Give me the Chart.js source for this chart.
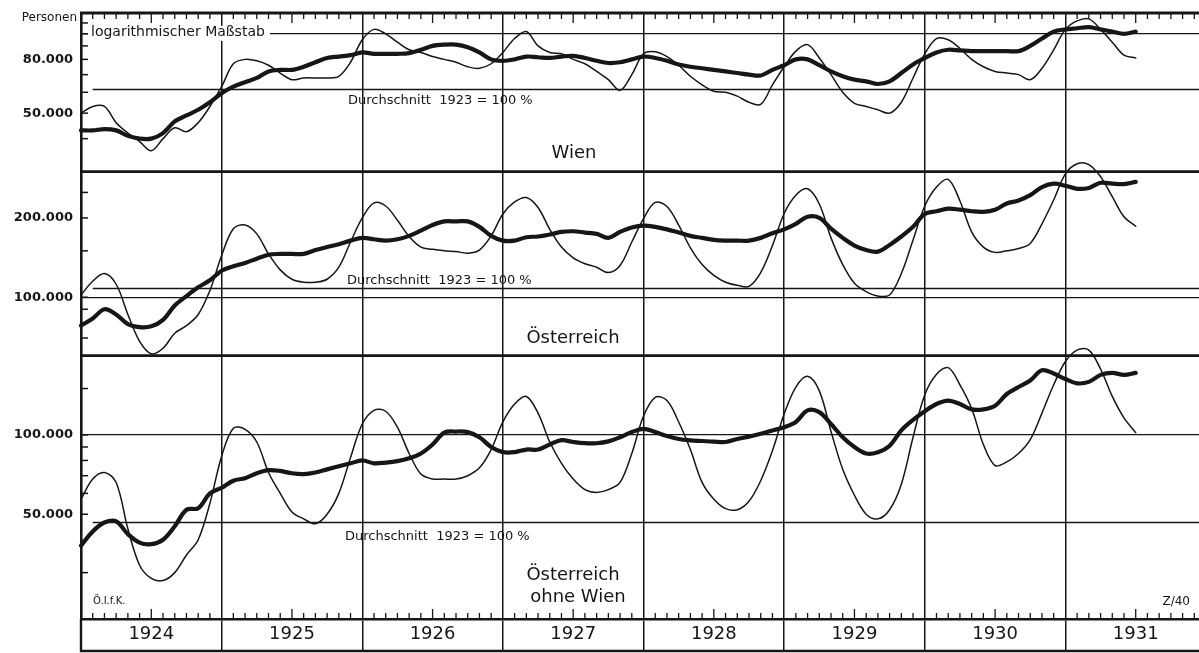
<!DOCTYPE html>
<html><head><meta charset="utf-8">
<script src="https://cdn.jsdelivr.net/npm/chart.js@4.4.1/dist/chart.umd.min.js"></script>
<style>html,body{margin:0;padding:0;background:#fff;overflow:hidden}canvas{display:block}</style>
</head><body>
<canvas id="c" width="1199" height="653"></canvas>
<script>
// ---------- DATA ----------
const years = ['1924','1925','1926','1927','1928','1929','1930','1931'];
const firstYear = 1924;   // first monthly value = January 1924

const wienMonthly = [50000,53000,53000,46000,42000,39000,36000,40000,44000,42500,46000,53000,
 63000,77000,80000,79000,76000,71000,67000,68000,68000,68000,69000,78000,
 95000,104000,100000,93000,87000,85000,82000,80000,78000,75000,74000,77000,
 85000,96000,102000,90000,85000,84000,80000,77000,72000,67000,61000,70000,
 84000,85500,82000,76000,69000,64000,60500,60000,58000,55000,54000,64000,
 75000,86000,91000,81000,70000,60000,54500,53000,51500,50000,55000,68000,
 84000,96000,95000,88000,80000,75000,72000,71000,70000,67000,74000,87000,
 104000,112000,114000,104000,93000,83000,81000];
const wienTrend = [43000,43000,43500,43000,41000,40000,40000,42000,46500,49000,51500,55000,
 59500,63000,65500,68000,72000,73000,73000,75000,78000,81000,82000,83000,
 85000,84000,84000,84000,84500,87000,90000,91000,91000,89000,85000,80000,
 79000,80000,82000,81500,81000,82000,82500,81000,79000,77500,78000,80000,
 82000,81000,79000,76500,75000,74000,73000,72000,71000,70000,69500,73000,
 76000,80000,80000,76000,72000,69000,67000,66000,64500,66000,71000,76500,
 81000,85000,87000,86500,86000,86000,86000,86000,86000,90000,96000,102000,
 104000,105000,106000,104000,102000,100000,102000];

const oesterreichMonthly = [102000,115000,123000,112000,86000,68000,61000,64000,73000,78000,86000,106000,
 144000,182000,188000,174000,146000,127000,117000,114000,114000,117000,130000,162000,
 200000,228000,222000,196000,170000,155000,152000,150000,149000,147000,151000,171000,
 207000,230000,239000,219000,181000,155000,141000,134000,130000,124000,132000,162000,
 199000,229000,221000,188000,154000,133000,121000,114000,111000,110000,124000,157000,
 208000,244000,258000,226000,168000,133000,113000,105000,101000,102000,123000,165000,
 222000,262000,280000,232000,177000,155000,148000,150000,153000,160000,190000,234000,
 294000,321000,319000,287000,241000,202000,186000];
const oesterreichTrend = [78000,83000,90000,86000,79000,77000,77500,82000,93000,101000,109000,116000,
 126000,131000,135000,140000,145000,146000,146000,146000,151000,155000,159000,164000,
 168000,166000,164000,166000,171000,179000,188000,194000,194000,194000,185000,171000,
 164000,164000,169000,170000,173000,177000,178000,176000,174000,168000,177000,184000,
 187000,185000,181000,176000,171000,168000,165000,164000,164000,164000,168000,175000,
 181000,190000,202000,200000,182000,168000,157000,151000,149000,158000,170000,185000,
 207000,212000,217000,215000,212000,211000,215000,227000,233000,244000,262000,270000,
 265000,258000,260000,272000,270000,269000,274000];

const ohneWienMonthly = [57000,68000,72000,66000,44000,32000,28500,28000,30000,35000,40000,55000,
 83000,106000,105000,94000,72000,60000,51000,48000,46000,50000,60000,82000,
 110000,124000,123000,107000,85000,71000,68000,68000,68000,70000,75000,88000,
 112000,131000,140000,121000,94000,78000,68000,62000,60500,62000,66000,85000,
 118000,139000,135000,112000,88000,66000,57000,52500,52000,56000,67000,87000,
 120000,152000,167000,147000,103000,74000,59000,50000,48000,52000,65000,98000,
 142000,170000,180000,155000,126000,92000,76500,79000,85000,96000,121000,155000,
 190000,210000,210000,178000,140000,116000,102000];
const ohneWienTrend = [38000,43000,46500,47000,42000,39000,38500,40000,45000,52000,52700,60000,
 63000,67000,68500,71500,73500,73000,71500,71000,72000,74000,76000,78000,
 80000,78000,78500,79500,81500,85000,92000,102000,103000,102500,98000,90000,
 86000,86000,88000,88000,92000,95500,94000,93000,93000,94500,98000,102500,
 105500,102500,99000,96500,95300,94800,94300,94000,96500,98500,101000,104000,
 107000,112000,124000,122000,110000,98000,90000,85000,86000,91000,104000,114000,
 123000,131000,135000,131000,125000,125000,129000,143000,152000,161000,176000,171000,
 163000,157000,159000,169000,172000,169000,172000];

// Durchschnitt 1923 = 100 %
const wienAverage1923 = 61500;
const oesterreichAverage1923 = 108000;
const ohneWienAverage1923 = 46500;

// axis ranges and ticks (Personen, logarithmic)
const wienRange = [30000, 120000];
const oesterreichRange = [60000, 300000];
const ohneWienRange = [20000, 200000];
const wienTicks = [40000,50000,60000,70000,80000,90000,100000,110000];
const oesterreichTicks = [70000,80000,90000,100000,150000,200000,250000];
const ohneWienTicks = [30000,50000,60000,70000,80000,90000,100000,150000];
const wienTickLabels = [80000, 50000];
const oesterreichTickLabels = [200000, 100000];
const ohneWienTickLabels = [100000, 50000];
const gridValue = 100000;

// ---------- CHART ----------
const INK = '#161616';
const FONT = "'DejaVu Sans', 'Liberation Sans', sans-serif";
const fmt = v => String(v).replace(/\B(?=(\d{3})+(?!\d))/g, '.');
const series = arr => arr.map((v, i) => ({ x: firstYear + i / 12, y: v }));
const yearTicks = [];
years.forEach(y => { yearTicks.push(+y); yearTicks.push(+y + 0.5); });

function line(data, axis, thick) {
  return {
    data: series(data), yAxisID: axis, borderColor: INK, borderWidth: thick ? 4.2 : 1.5,
    pointRadius: 0, tension: 0.35, fill: false, clip: false,
    borderCapStyle: 'round', borderJoinStyle: 'round'
  };
}

function yAxis(range, ticks, labels) {
  return {
    type: 'logarithmic', position: 'left', stack: 'panels',
    stackWeight: Math.log10(range[1] / range[0]),
    min: range[0], max: range[1],
    afterBuildTicks: s => { s.ticks = ticks.map(v => ({ value: v })); },
    afterFit: s => { s.width = 81; s.paddingTop = 0; s.paddingBottom = 0; },
    grid: {
      drawTicks: false, lineWidth: 1.3,
      color: c => (c.tick && c.tick.value === gridValue) ? INK : 'rgba(0,0,0,0)'
    },
    border: { display: true, color: INK, width: 2.6 },
    ticks: {
      autoSkip: false, padding: 8, color: INK,
      font: { family: FONT, size: 13, weight: 'bold' },
      callback: v => labels.includes(v) ? fmt(v) : ''
    }
  };
}

const panelInfo = [
  { axis: 'yW', avg: wienAverage1923, ticks: wienTicks },
  { axis: 'yO', avg: oesterreichAverage1923, ticks: oesterreichTicks },
  { axis: 'yR', avg: ohneWienAverage1923, ticks: ohneWienTicks }
];

const decor = {
  id: 'decor',
  beforeDatasetsDraw(chart) {
    const { ctx, chartArea: a, scales } = chart;
    const x = scales.x;
    ctx.save();
    ctx.strokeStyle = INK;
    ctx.lineWidth = 1.5;
    panelInfo.forEach(p => {
      const py = scales[p.axis].getPixelForValue(p.avg);
      ctx.beginPath(); ctx.moveTo(x.getPixelForValue(firstYear + 1 / 12), py); ctx.lineTo(a.right, py); ctx.stroke();
    });
    panelInfo.forEach(p => {
      const s = scales[p.axis];
      p.ticks.forEach(v => {
        const py = s.getPixelForValue(v);
        ctx.beginPath(); ctx.moveTo(a.left, py); ctx.lineTo(a.left + 7, py); ctx.stroke();
      });
    });
    ctx.lineWidth = 1.3;
    for (let m = 1; m < 12 * years.length; m++) {
      if (m % 12 === 0) continue;
      const px = x.getPixelForValue(firstYear + m / 12);
      if (px > a.right) break;
      const len = (m % 12 === 6) ? 10 : 6;
      ctx.beginPath(); ctx.moveTo(px, a.top); ctx.lineTo(px, a.top + len); ctx.stroke();
      ctx.beginPath(); ctx.moveTo(px, a.bottom); ctx.lineTo(px, a.bottom - len); ctx.stroke();
    }
    ctx.restore();
  },
  afterDatasetsDraw(chart) {
    const { ctx, chartArea: a, scales } = chart;
    ctx.save();
    ctx.strokeStyle = INK; ctx.fillStyle = INK;
    ctx.lineWidth = 2.8;
    [a.top, scales.yO.top, scales.yR.top].forEach(py => {
      ctx.beginPath(); ctx.moveTo(a.left - 1, py); ctx.lineTo(a.right, py); ctx.stroke();
    });
    ctx.lineWidth = 2.4;
    ctx.beginPath(); ctx.moveTo(a.left - 1, chart.height - 2); ctx.lineTo(a.right, chart.height - 2); ctx.stroke();
    ctx.beginPath(); ctx.moveTo(a.left, a.bottom); ctx.lineTo(a.left, chart.height - 1); ctx.stroke();

    ctx.textBaseline = 'middle';
    ctx.font = `12px ${FONT}`; ctx.textAlign = 'right';
    ctx.fillText('Personen', 77, 18);

    const gy = scales.yW.getPixelForValue(gridValue);
    ctx.font = `14px ${FONT}`; ctx.textAlign = 'left';
    const lab = 'logarithmischer Maßstab';
    const w = ctx.measureText(lab).width;
    ctx.fillStyle = '#fff'; ctx.fillRect(88, gy - 8, w + 8, 15);
    ctx.fillStyle = INK; ctx.fillText(lab, 91, gy - 1);

    ctx.font = `13px ${FONT}`;
    const dt = 'Durchschnitt  1923 = 100 %';
    ctx.fillText(dt, 348, scales.yW.getPixelForValue(wienAverage1923) + 11);
    ctx.fillText(dt, 347, scales.yO.getPixelForValue(oesterreichAverage1923) - 8);
    ctx.fillText(dt, 345, scales.yR.getPixelForValue(ohneWienAverage1923) + 14);

    ctx.font = `18px ${FONT}`; ctx.textAlign = 'center';
    ctx.fillText('Wien', 574, 153);
    ctx.fillText('Österreich', 573, 338);
    ctx.fillText('Österreich', 573, 575);
    ctx.fillText('ohne Wien', 578, 597);

    ctx.font = `10px ${FONT}`; ctx.textAlign = 'left';
    ctx.fillText('Ö.I.f.K.', 93, 601);
    ctx.font = `12px ${FONT}`; ctx.textAlign = 'right';
    ctx.fillText('Z/40', 1190, 602);
    ctx.restore();
  }
};

new Chart(document.getElementById('c'), {
  type: 'line',
  data: {
    datasets: [
      line(wienMonthly, 'yW', false), line(wienTrend, 'yW', true),
      line(oesterreichMonthly, 'yO', false), line(oesterreichTrend, 'yO', true),
      line(ohneWienMonthly, 'yR', false), line(ohneWienTrend, 'yR', true)
    ]
  },
  options: {
    responsive: false, animation: false, devicePixelRatio: 1,
    layout: { padding: { top: 13, left: 0, right: 0, bottom: 0 } },
    plugins: { legend: { display: false }, tooltip: { enabled: false }, title: { display: false } },
    scales: {
      x: {
        type: 'linear', position: 'bottom', min: firstYear, max: 1931.95,
        afterBuildTicks: s => { s.ticks = yearTicks.map(v => ({ value: v })); },
        afterFit: s => { s.height = 34; s.paddingLeft = 0; s.paddingRight = 0; },
        grid: {
          lineWidth: 1.5, tickLength: 32,
          color: c => (c.tick && Number.isInteger(c.tick.value)) ? INK : 'rgba(0,0,0,0)'
        },
        border: { display: true, color: INK, width: 2.6 },
        ticks: {
          autoSkip: false, maxRotation: 0, padding: -27, color: INK,
          font: { family: FONT, size: 18 },
          callback: v => Number.isInteger(v) ? '' : String(Math.floor(v))
        }
      },
      // stacked panels: the last-listed axis is placed on top
      yR: yAxis(ohneWienRange, ohneWienTicks, ohneWienTickLabels),
      yO: yAxis(oesterreichRange, oesterreichTicks, oesterreichTickLabels),
      yW: yAxis(wienRange, wienTicks, wienTickLabels)
    }
  },
  plugins: [decor]
});
</script>
</body></html>
